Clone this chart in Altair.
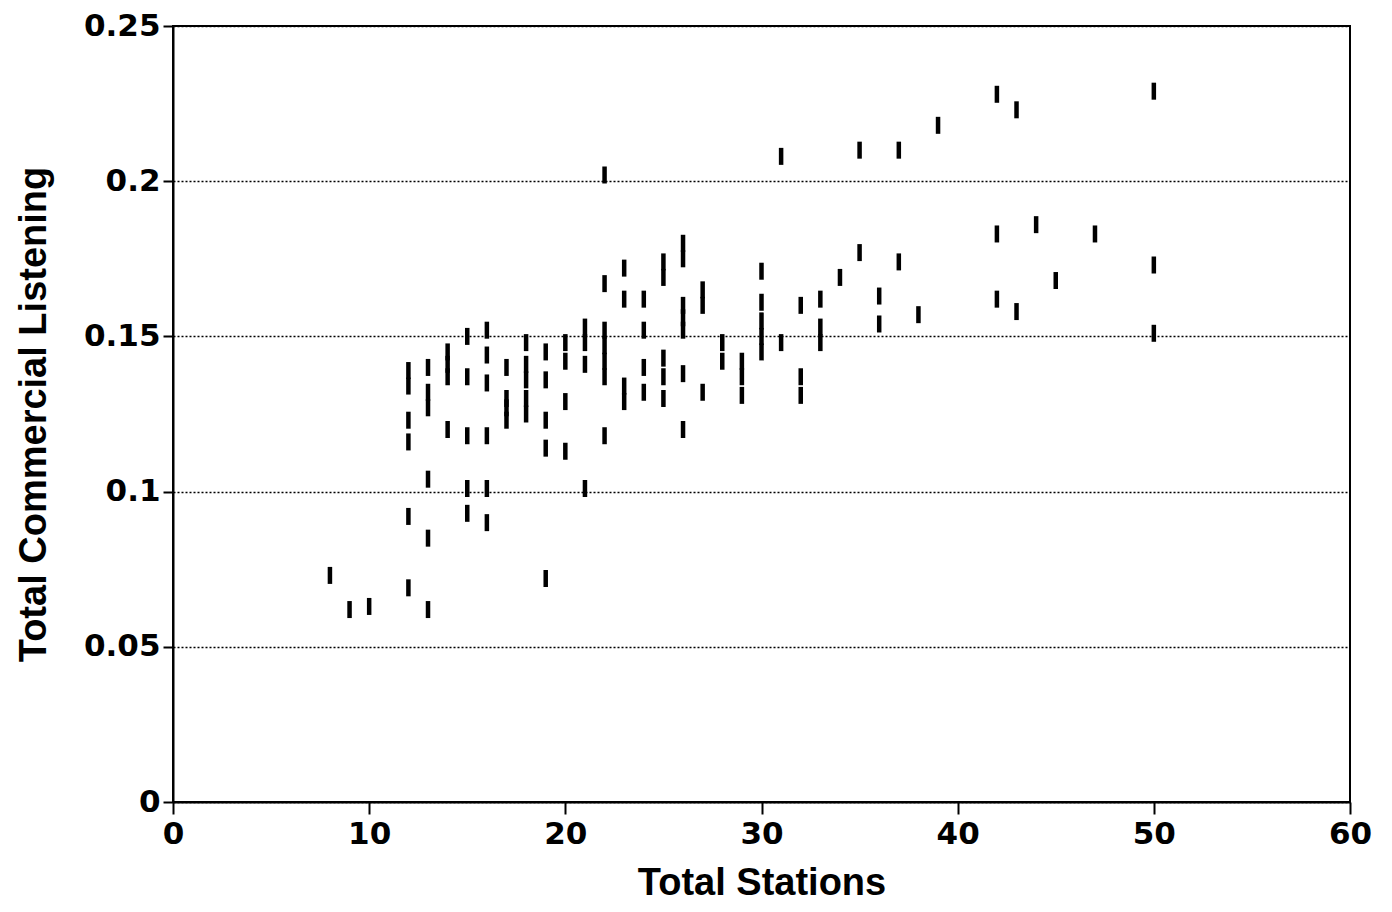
import altair as alt
import pandas as pd

stations = (
    [8, 9, 10]
    + [12] * 6 + [13] * 6 + [14] * 4 + [15] * 5 + [16] * 6 + [17] * 4
    + [18] * 5 + [19] * 5 + [20] * 4 + [21] * 4 + [22] * 7 + [23] * 4
    + [24] * 4 + [25] * 5 + [26] * 7 + [27] * 3 + [28] * 2 + [29] * 3
    + [30] * 5 + [31] * 2 + [32] * 3 + [33] * 3 + [34] + [35] * 2
    + [36] * 2 + [37] * 2 + [38] + [39] + [42] * 3 + [43] * 2 + [44]
    + [45] + [47] + [50] * 3
)
listening = (
    [0.073, 0.062, 0.063]
    + [0.139, 0.134, 0.123, 0.116, 0.092, 0.069]
    + [0.140, 0.132, 0.127, 0.104, 0.085, 0.062]
    + [0.145, 0.141, 0.137, 0.120]
    + [0.150, 0.137, 0.118, 0.101, 0.093]
    + [0.152, 0.144, 0.135, 0.118, 0.101, 0.090]
    + [0.140, 0.130, 0.127, 0.123]
    + [0.148, 0.141, 0.136, 0.130, 0.125]
    + [0.145, 0.136, 0.123, 0.114, 0.072]
    + [0.148, 0.142, 0.129, 0.113]
    + [0.153, 0.148, 0.141, 0.101]
    + [0.202, 0.167, 0.152, 0.147, 0.142, 0.137, 0.118]
    + [0.172, 0.162, 0.134, 0.129]
    + [0.162, 0.152, 0.140, 0.132]
    + [0.174, 0.169, 0.143, 0.137, 0.130]
    + [0.180, 0.175, 0.160, 0.156, 0.152, 0.138, 0.120]
    + [0.165, 0.160, 0.132]
    + [0.148, 0.142]
    + [0.142, 0.137, 0.131]
    + [0.171, 0.161, 0.155, 0.150, 0.145]
    + [0.208, 0.148]
    + [0.160, 0.137, 0.131]
    + [0.162, 0.153, 0.148]
    + [0.169]
    + [0.210, 0.177]
    + [0.163, 0.154]
    + [0.210, 0.174]
    + [0.157]
    + [0.218]
    + [0.228, 0.183, 0.162]
    + [0.223, 0.158]
    + [0.186]
    + [0.168]
    + [0.183]
    + [0.229, 0.173, 0.151]
)

x_ticks = [0, 10, 20, 30, 40, 50, 60]
y_ticks = [0, 0.05, 0.1, 0.15, 0.2, 0.25]

df = pd.DataFrame({"stations": stations, "listening": listening})

label_font = "DejaVu Sans"
title_font = "Liberation Sans"

chart = (
    alt.Chart(df)
    .mark_tick(orient="vertical", color="black", size=17, thickness=4.5, opacity=1)
    .encode(
        x=alt.X(
            "stations:Q",
            scale=alt.Scale(domain=[0, 60], nice=False, zero=False),
            axis=alt.Axis(
                values=x_ticks,
                title="Total Stations",
                grid=False,
                tickSize=12,
                tickWidth=2,
                tickColor="black",
                domainColor="black",
                domainWidth=2,
                labelFont=label_font,
                labelFontSize=31,
                labelFontWeight="bold",
                labelColor="black",
                labelPadding=5,
                labelFlush=False,
                titleFont=title_font,
                titleFontSize=38,
                titleFontWeight="bold",
                titleColor="black",
                titlePadding=15,
            ),
        ),
        y=alt.Y(
            "listening:Q",
            scale=alt.Scale(domain=[0, 0.25], nice=False, zero=False),
            axis=alt.Axis(
                values=y_ticks,
                format="~g",
                title="Total Commercial Listening",
                grid=True,
                gridColor="black",
                gridDash=[2, 2],
                gridWidth=1.4,
                tickSize=10,
                tickWidth=2,
                tickColor="black",
                domainColor="black",
                domainWidth=2,
                labelFont=label_font,
                labelFontSize=31,
                labelFontWeight="bold",
                labelColor="black",
                labelPadding=3,
                labelFlush=False,
                titleFont=title_font,
                titleFontSize=38,
                titleFontWeight="bold",
                titleColor="black",
                titlePadding=30,
            ),
        ),
    )
    .properties(
        width=1177,
        height=776,
        padding={"left": 7, "top": 2, "right": 3, "bottom": 0},
    )
    .configure(background="white")
    .configure_view(stroke="black", strokeWidth=2)
)

chart.save("out.html", embed_options={"renderer": "svg", "actions": False})
